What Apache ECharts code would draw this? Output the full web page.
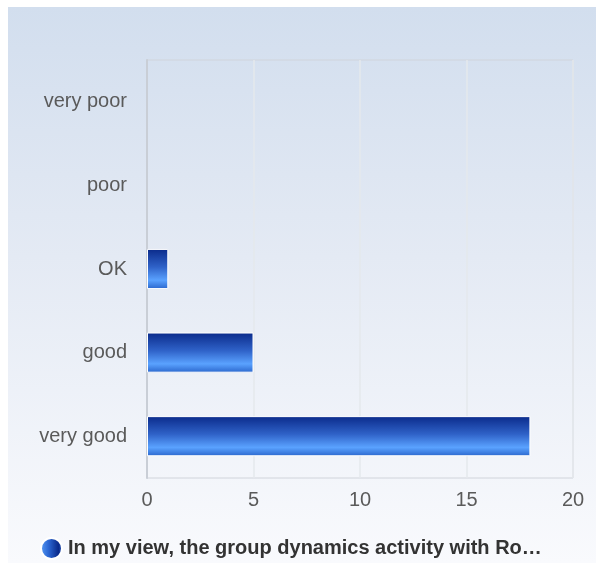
<!DOCTYPE html>
<html>
<head>
<meta charset="utf-8">
<script src="https://cdn.jsdelivr.net/npm/echarts@6/dist/echarts.min.js"></script>
<style>
  html, body { margin: 0; padding: 0; background: #fff; }
  #chart {
    position: absolute;
    left: 8px;
    top: 7px;
    width: 588px;
    height: 556px;
    background: linear-gradient(to bottom, #d2deee 0%, #e4eaf4 45%, #f9fafd 100%);
  }
</style>
</head>
<body>
<div id="chart"></div>
<script>
const categories = ["very good", "good", "OK", "poor", "very poor"];
const values = [18, 5, 1, 0, 0];
const xTicks = [0, 5, 10, 15, 20];
const seriesName = "In my view, the group dynamics activity with Ro…";

const chart = echarts.init(document.getElementById("chart"));

const barGradient = new echarts.graphic.LinearGradient(0, 0, 0, 1, [
  { offset: 0, color: "#0a2a8a" },
  { offset: 0.45, color: "#2f62c8" },
  { offset: 0.78, color: "#5aa2ff" },
  { offset: 1, color: "#2a66cc" },
]);

const font = "Liberation Sans, Arial, sans-serif";

chart.setOption({
  animation: false,
  grid: {
    left: 139,
    right: 23,
    top: 53,
    bottom: 85,
    show: true,
    borderColor: "#d0d4db",
    borderWidth: 1,
    backgroundColor: "transparent",
  },
  xAxis: {
    type: "value",
    min: xTicks[0],
    max: xTicks[xTicks.length - 1],
    interval: 5,
    axisLine: { show: false },
    axisTick: { show: false },
    axisLabel: {
      color: "#5a5a5a",
      fontSize: 20,
      fontFamily: font,
      margin: 12,
    },
    splitLine: { show: true, lineStyle: { color: "#e5e8ed", width: 1.5 } },
  },
  yAxis: {
    type: "category",
    data: categories,
    axisLine: { show: true, lineStyle: { color: "#c9ced6", width: 2 } },
    axisTick: { show: false },
    axisLabel: {
      color: "#5a5a5a",
      fontSize: 20,
      fontFamily: font,
      margin: 20,
      padding: [5, 0, 0, 0],
    },
  },
  legend: {
    left: 27,
    top: 525,
    itemWidth: 23,
    itemHeight: 21,
    itemGap: 10,
    icon: "circle",
    textStyle: {
      color: "#333",
      fontSize: 20,
      fontWeight: "bold",
      fontFamily: font,
    },
    data: [
      {
        name: seriesName,
        itemStyle: {
          color: new echarts.graphic.LinearGradient(0, 0, 1, 0, [
            { offset: 0, color: "#5b9ef5" },
            { offset: 0.35, color: "#2e6ad6" },
            { offset: 0.8, color: "#0a2a8a" },
            { offset: 1, color: "#2a5cc0" },
          ]),
        },
      },
    ],
  },
  series: [
    {
      name: seriesName,
      type: "bar",
      data: values.map((v) =>
        v === 0 ? { value: v, itemStyle: { borderWidth: 0 } } : v
      ),
      barWidth: "48%",
      itemStyle: {
        color: barGradient,
        borderColor: "#fff",
        borderWidth: 1,
      },
    },
  ],
});
</script>
</body>
</html>
